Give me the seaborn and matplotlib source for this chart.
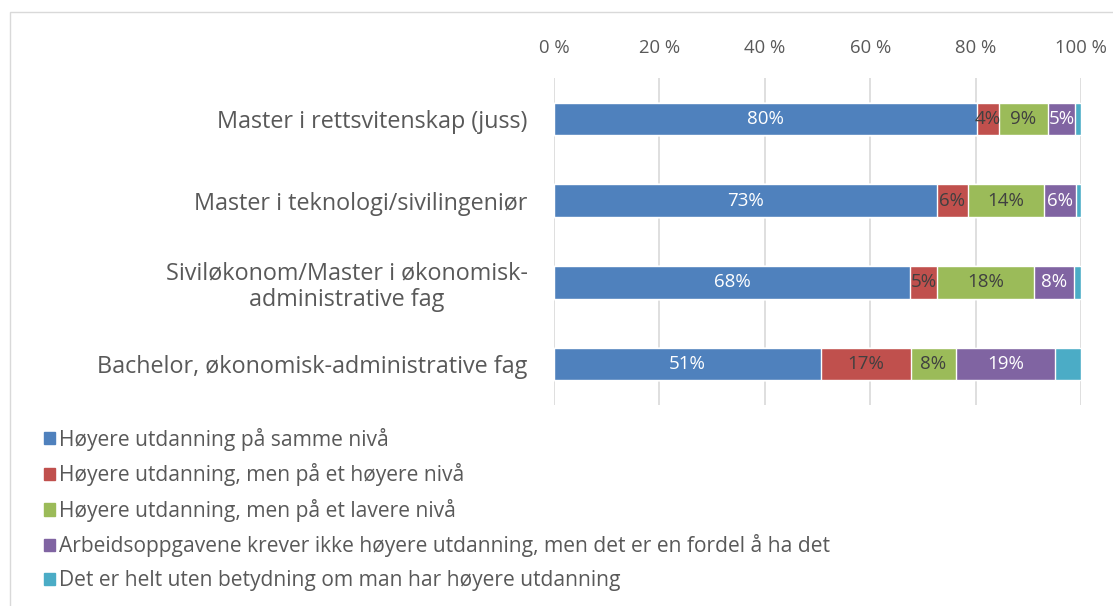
import matplotlib.pyplot as plt
import matplotlib.patches as mpatches
import numpy as np
import pandas as pd
import seaborn as sns

kategorier = [
    "Master i rettsvitenskap (juss)",
    "Master i teknologi/sivilingeniør",
    "Siviløkonom/Master i økonomisk-\nadministrative fag",
    "Bachelor, økonomisk-administrative fag",
]
serier = [
    "Høyere utdanning på samme nivå",
    "Høyere utdanning, men på et høyere nivå",
    "Høyere utdanning, men på et lavere nivå",
    "Arbeidsoppgavene krever ikke høyere utdanning, men det er en fordel å ha det",
    "Det er helt uten betydning om man har høyere utdanning",
]
samme_niva = [80.3, 72.6, 67.5, 50.6]
hoyere_niva = [4.1, 5.9, 5.2, 17.2]
lavere_niva = [9.4, 14.4, 18.4, 8.4]
fordel = [5.1, 6.1, 7.6, 18.9]
uten_betydning = [1.1, 1.0, 1.3, 4.9]

farger = ["#4F81BD", "#C0504D", "#9BBB59", "#8064A2", "#4BACC6"]
tekstfarger = ["white", "#404040", "#404040", "white", None]
GRA = "#595959"

sns.set_theme(style="white")
plt.rcParams["font.family"] = ["Open Sans", "DejaVu Sans"]

verdier = np.array([samme_niva, hoyere_niva, lavere_niva, fordel, uten_betydning])
kumulativ = verdier.cumsum(axis=0)

fig = plt.figure(figsize=(11.13, 6.06), dpi=100)
ax = fig.add_axes([0.4978, 0.3317, 0.9712 - 0.4978, 0.871 - 0.3317])

# stablede stolper: tegn kumulative summer bakfra
for i in reversed(range(len(serier))):
    df = pd.DataFrame({"kategori": kategorier, "verdi": kumulativ[i]})
    sns.barplot(data=df, x="verdi", y="kategori", color=farger[i],
                saturation=1, width=0.4, ax=ax, orient="h")

for i in range(len(serier) - 1):
    for j in range(len(kategorier)):
        midt = kumulativ[i, j] - verdier[i, j] / 2
        ax.text(midt, j, f"{round(verdier[i, j])}%", ha="center", va="center",
                color=tekstfarger[i], fontsize=13.5)

ax.set_xlim(0, 100)
ax.set_ylim(3.5, -0.5)
ax.set_xticks(range(0, 101, 20))
ax.set_xticklabels([f"{t} %" for t in range(0, 101, 20)])
ax.xaxis.tick_top()
ax.tick_params(axis="x", length=0, pad=15, labelsize=13.3, labelcolor=GRA)
ax.tick_params(axis="y", length=0, pad=19, labelsize=16.8, labelcolor=GRA)
for lbl in ax.get_yticklabels():
    lbl.set_multialignment("center")
    lbl.set_linespacing(1.15)
ax.set_xlabel("")
ax.set_ylabel("")
ax.grid(axis="x", color="#D9D9D9", linewidth=1.2)
ax.set_axisbelow(True)
for side in ax.spines.values():
    side.set_visible(False)

handles = [mpatches.Patch(color=farger[i], label=serier[i]) for i in range(len(serier))]
fig.legend(handles=handles, loc="upper left", bbox_to_anchor=(0.032, 0.308),
           frameon=False, fontsize=15.1, labelcolor=GRA, handlelength=0.52,
           handleheight=0.52, handletextpad=0.2, labelspacing=0.6, borderaxespad=0)

fig.patches.append(mpatches.Rectangle((10 / 1113, -0.1), 1.2, 1 - 12 / 606 + 0.1,
                                      transform=fig.transFigure, fill=False,
                                      edgecolor="#D9D9D9", linewidth=1))

fig.savefig("out.png", dpi=100)
plt.close(fig)
